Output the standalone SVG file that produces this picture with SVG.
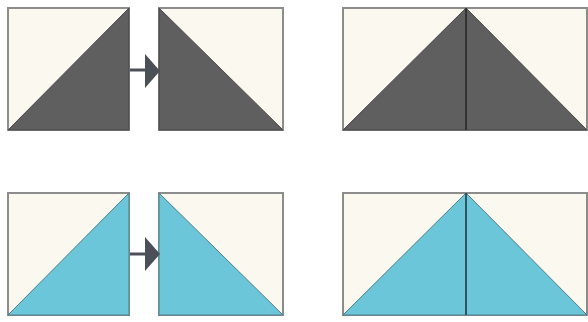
<svg xmlns="http://www.w3.org/2000/svg" width="588" height="322" viewBox="0 0 588 322">
<style>
.bg{fill:#fbf9ef;stroke:#8c8c8c;stroke-width:2}
.dk{fill:#5f5f5f;stroke:#4a4a4a;stroke-width:1}
.bl{fill:#6cc6d9;stroke:#4f7f8a;stroke-width:1}
.seam{stroke:#333;stroke-width:2}
.conn{stroke:#4b4f58;stroke-width:3;fill:none}
.head{fill:#4b4f58}
</style>
<rect width="588" height="322" fill="#ffffff"/>
<g id="dark-a">
<rect class="bg" x="8" y="8" width="121" height="122"/>
<polygon class="dk" points="8,130 129,8 129,130"/>
</g>
<g id="dark-b">
<rect class="bg" x="159" y="8" width="124" height="122"/>
<polygon class="dk" points="159,8 159,130 283,130"/>
</g>
<g id="dark-joined">
<rect class="bg" x="343" y="8" width="244" height="122"/>
<polygon class="dk" points="343,130 466,8 587,130"/>
<line class="seam" x1="466" y1="8" x2="466" y2="130"/>
</g>
<g id="blue-a">
<rect class="bg" x="8" y="193" width="121" height="122"/>
<polygon class="bl" points="8,315 129,193 129,315"/>
</g>
<g id="blue-b">
<rect class="bg" x="159" y="193" width="124" height="122"/>
<polygon class="bl" points="159,193 159,315 283,315"/>
</g>
<g id="blue-joined">
<rect class="bg" x="343" y="193" width="244" height="122"/>
<polygon class="bl" points="343,315 466,193 587,315"/>
<line x1="466" y1="193" x2="466" y2="315" stroke="#2f5560" stroke-width="2"/>
</g>
<g id="connectors">
<line class="conn" x1="130" y1="70" x2="146" y2="70"/>
<polygon class="head" points="145,54 160,71 145,88"/>
<line class="conn" x1="130" y1="254" x2="146" y2="254"/>
<polygon class="head" points="145,237 160,254 145,271"/>
</g>
</svg>
